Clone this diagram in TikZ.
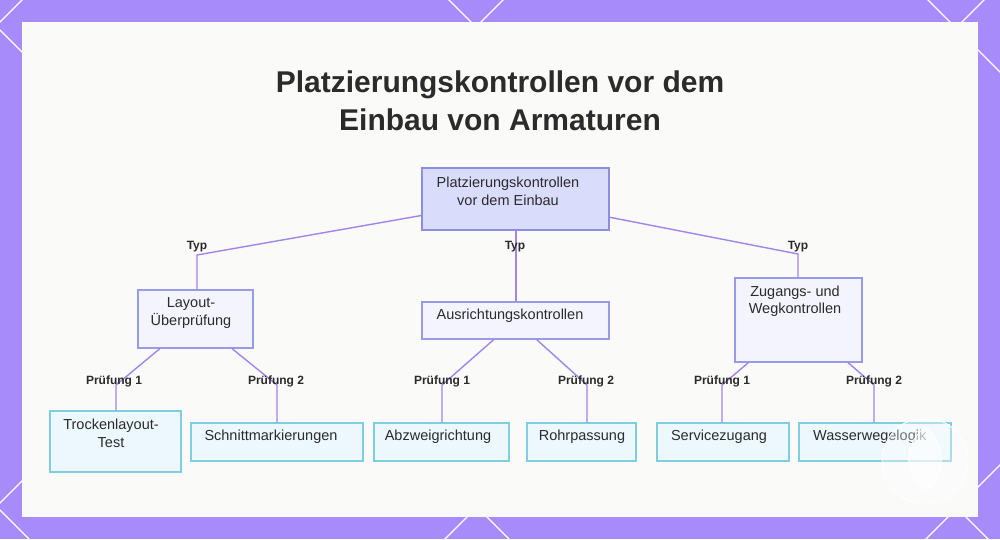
\documentclass[tikz,border=0pt]{standalone}
\usepackage{fontspec}
\setmainfont{Liberation Sans}
\definecolor{bgpurple}{HTML}{A78BFA}
\definecolor{panel}{HTML}{FAFAF9}
\definecolor{rootfill}{HTML}{D9DCFB}
\definecolor{rootline}{HTML}{8C8FDF}
\definecolor{midfill}{HTML}{F3F4FE}
\definecolor{midline}{HTML}{989BE5}
\definecolor{leaffill}{HTML}{EDF8FE}
\definecolor{leafline}{HTML}{7FCDE0}
\definecolor{edgecol}{HTML}{A185E8}
\definecolor{ink}{HTML}{2B2B2B}
\begin{document}
\begin{tikzpicture}[x=1pt,y=-1pt,
  boxbase/.style={draw, line width=1.2pt, inner sep=0pt},
  rootbox/.style={boxbase, fill=rootfill, draw=rootline},
  midbox/.style={boxbase, fill=midfill, draw=midline},
  leafbox/.style={boxbase, fill=leaffill, draw=leafline},
  txt/.style={font=\fontsize{14.5}{17.5}\selectfont, text=ink, align=center, inner sep=0pt},
  lbl/.style={font=\bfseries\fontsize{12}{14}\selectfont, text=ink, inner sep=0pt},
  edge/.style={draw=edgecol, line width=1.4pt},
  lattice/.style={draw=white, line width=1.2pt}]
\useasboundingbox (0,0) rectangle (1000,539);
\begin{scope}
\clip (0,0) rectangle (1000,539);
\fill[bgpurple] (0,0) rectangle (1000,539);
\foreach \c in {22,503,984,1465} {\draw[lattice] (\c+20,-20) -- (\c-580,580);}
\foreach \d in {510,30,-449,-928} {\draw[lattice] (-20,\d-20) -- (1040,\d+1040);}
\end{scope}
\fill[panel] (22,22) rectangle (978,517);

% title
\node[font=\bfseries\fontsize{30}{38}\selectfont, text=ink, align=center] (title) at (500,101)
  {Platzierungskontrollen vor dem\\Einbau von Armaturen};

% boxes
\node[rootbox, minimum width=187pt, minimum height=62pt] (root) at (515.5,199) {};
\node[txt] (root-t) at (508,191.5) {Platzierungskontrollen\\vor dem Einbau};

\node[midbox, minimum width=115pt, minimum height=58pt] (lay) at (195.5,319) {};
\node[txt] (lay-t) at (191,313) {Layout-\\Überprüfung};
\node[midbox, minimum width=187pt, minimum height=37pt] (aus) at (515.5,320.5) {};
\node[txt] (aus-t) at (510,316) {Ausrichtungskontrollen};
\node[midbox, minimum width=127pt, minimum height=84pt] (zug) at (798.5,320) {};
\node[txt] (zug-t) at (795,301) {Zugangs- und\\Wegkontrollen};

\node[leafbox, minimum width=131pt, minimum height=61pt] (tro) at (115.5,441.5) {};
\node[txt] (tro-t) at (111,433.5) {Trockenlayout-\\Test};
\node[leafbox, minimum width=172pt, minimum height=38pt] (sch) at (277,442) {};
\node[txt] (sch-t) at (271,437) {Schnittmarkierungen};
\node[leafbox, minimum width=135pt, minimum height=38pt] (abz) at (441.5,442) {};
\node[txt] (abz-t) at (438,437) {Abzweigrichtung};
\node[leafbox, minimum width=109pt, minimum height=38pt] (rohr) at (581.5,442) {};
\node[txt] (rohr-t) at (582,437) {Rohrpassung};
\node[leafbox, minimum width=132pt, minimum height=38pt] (serv) at (723,442) {};
\node[txt] (serv-t) at (719,437) {Servicezugang};
\node[leafbox, minimum width=152pt, minimum height=38pt] (was) at (875,442) {};
\node[txt, anchor=west] (was-t) at (813,437) {Wasserwegelogik};

% bends
\coordinate (b1) at (197,255);
\coordinate (b2) at (516,255);
\coordinate (b3) at (798,254);
\coordinate (c1) at (116,385);
\coordinate (c2) at (277,385);
\coordinate (c3) at (442,385);
\coordinate (c4) at (587,385);
\coordinate (c5) at (722,385);
\coordinate (c6) at (874,385);

% edges
\draw[edge] (root) -- (b1) -- (b1 |- lay.north);
\draw[edge] (b2 |- root.south) -- (b2 |- aus.north);
\draw[edge] (root) -- (b3) -- (b3 |- zug.north);
\draw[edge] (lay) -- (c1) -- (c1 |- tro.north);
\draw[edge] (lay) -- (c2) -- (c2 |- sch.north);
\draw[edge] (aus) -- (c3) -- (c3 |- abz.north);
\draw[edge] (aus) -- (c4) -- (c4 |- rohr.north);
\draw[edge] (zug) -- (c5) -- (c5 |- serv.north);
\draw[edge] (zug) -- (c6) -- (c6 |- was.north);

% labels
\node[lbl] (l1) at (197,247) {Typ};
\node[lbl] (l2) at (515,247) {Typ};
\node[lbl] (l3) at (798,247) {Typ};
\node[lbl] (p1) at (114,381) {Prüfung 1};
\node[lbl] (p2) at (276,381) {Prüfung 2};
\node[lbl] (p3) at (442,381) {Prüfung 1};
\node[lbl] (p4) at (586,381) {Prüfung 2};
\node[lbl] (p5) at (722,381) {Prüfung 1};
\node[lbl] (p6) at (874,381) {Prüfung 2};

% watermark
\draw[white, line width=0.9pt, fill=white, fill opacity=0.35] (925,461) circle[radius=43];
\draw[white, line width=0.9pt, fill=white, fill opacity=0.5]
  (925,427) .. controls (948,445) and (945,478) .. (925,493)
  .. controls (905,478) and (902,445) .. (925,427);
\end{tikzpicture}
\end{document}
